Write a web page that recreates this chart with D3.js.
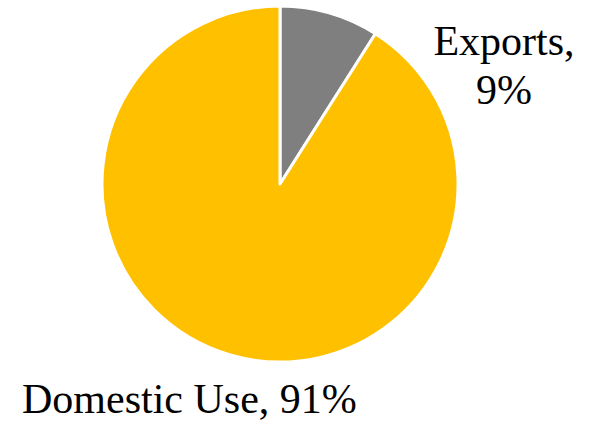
<!DOCTYPE html>
<html><head><meta charset="utf-8">
<script src="https://cdn.jsdelivr.net/npm/d3@7"></script>
<style>
@font-face{font-family:"LabelSerif";src:local("Liberation Serif"),local("LiberationSerif"),local("LiberationSerif-Regular");}
html,body{margin:0;padding:0;background:#fff;}
</style>
</head><body><svg id="c" width="595" height="426"></svg>
<script>
const categories = ["Exports", "Domestic Use"];
const values = [9, 91];
const colors = ["#7f7f7f", "#ffc000"];

const svg = d3.select("#c");
const cx = 280, cy = 184, r = 178;
const pie = d3.pie().sort(null).value(d => d)(values);
const arc = d3.arc().innerRadius(0).outerRadius(r);
const g = svg.append("g").attr("transform", `translate(${cx},${cy})`);
g.selectAll("path").data(pie).join("path")
  .attr("d", arc).attr("fill", (d, i) => colors[i])
  .attr("stroke", "#fff").attr("stroke-width", 3).attr("stroke-linejoin", "round");

const fam = '"Liberation Serif", "LabelSerif", Tinos, "Times New Roman", serif';
svg.append("text").attr("x", 504).attr("y", 55).attr("text-anchor", "middle")
  .style("font-family", fam).style("font-size", "42px").attr("fill", "#000")
  .text(categories[0] + ",");
svg.append("text").attr("x", 504).attr("y", 104).attr("text-anchor", "middle")
  .style("font-family", fam).style("font-size", "42px").attr("fill", "#000")
  .text(values[0] + "%");
svg.append("text").attr("x", 22).attr("y", 413)
  .style("font-family", fam).style("font-size", "42px").attr("fill", "#000")
  .text(categories[1] + ", " + values[1] + "%");
</script></body></html>
